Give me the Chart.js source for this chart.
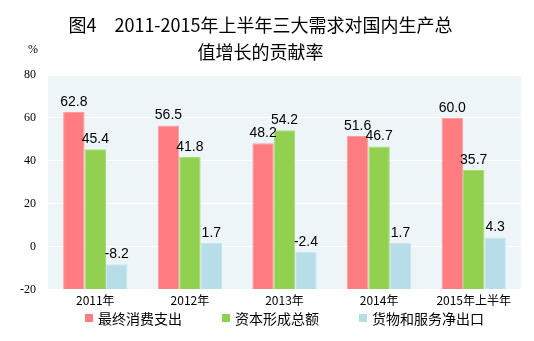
<!DOCTYPE html>
<html>
<head>
<meta charset="utf-8">
<script src="https://cdn.jsdelivr.net/npm/chart.js@4"></script>
<style>
	body { margin: 0; background: #fff; }
	#wrap { position: relative; width: 534px; height: 341px; }
	#legend {
		position: absolute; left: 48px; top: 308px; width: 473px;
		display: flex; justify-content: center; gap: 40px;
		font: 14px 'Noto Sans CJK SC', sans-serif; color: #000;
	}
	#legend span.item { display: flex; align-items: center; }
	#legend span.box { width: 8px; height: 8px; margin-right: 5px; }
</style>
</head>
<body>
<div id="wrap">
	<canvas id="chart" width="534" height="341"></canvas>
	<div id="legend"></div>
</div>
<script>
const categories = ['2011年', '2012年', '2013年', '2014年', '2015年上半年'];
const consumption = [62.8, 56.5, 48.2, 51.6, 60.0];
const capitalFormation = [45.4, 41.8, 54.2, 46.7, 35.7];
const netExports = [-8.2, 1.7, -2.4, 1.7, 4.3];
const seriesNames = ['最终消费支出', '资本形成总额', '货物和服务净出口'];
const titleLines = ['图4　2011-2015年上半年三大需求对国内生产总', '值增长的贡献率'];

const colors = ['#FF7C80', '#92D050', '#B7DDE8'];
const borders = ['#FF9EA0', '#A9DA78', '#C8E6EF'];
const cjk = "'Noto Sans CJK SC', sans-serif";

Chart.defaults.font.family = cjk;
Chart.defaults.color = '#000';

// plot area background
const plotBg = {
	id: 'plotBg',
	beforeDraw(chart) {
		const { ctx, chartArea: a } = chart;
		ctx.save();
		ctx.fillStyle = '#EDF5F8';
		ctx.fillRect(a.left, a.top, a.right - a.left, a.bottom - a.top);
		ctx.restore();
	},
};

// value labels above bars + the % unit
const valueLabels = {
	id: 'valueLabels',
	afterDatasetsDraw(chart) {
		const { ctx } = chart;
		ctx.save();
		ctx.font = "14px 'Liberation Sans', Arial, sans-serif";
		ctx.fillStyle = '#000';
		ctx.textAlign = 'center';
		ctx.textBaseline = 'alphabetic';
		chart.data.datasets.forEach((ds, i) => {
			chart.getDatasetMeta(i).data.forEach((bar, j) => {
				ctx.fillText(ds.data[j].toFixed(1), bar.x, bar.y - 6);
			});
		});
		ctx.font = "12px 'Liberation Serif', serif";
		ctx.textAlign = 'left';
		ctx.textBaseline = 'middle';
		ctx.fillText('%', 28, 50);
		ctx.restore();
	},
};

const seriesData = [consumption, capitalFormation, netExports];

const chart = new Chart(document.getElementById('chart'), {
	type: 'bar',
	data: {
		labels: categories,
		datasets: seriesData.map((values, i) => ({
			label: seriesNames[i],
			data: values,
			base: -20,
			backgroundColor: colors[i],
			borderColor: borders[i],
			borderWidth: 1,
			categoryPercentage: 0.68,
			barPercentage: 1,
		})),
	},
	options: {
		responsive: false,
		animation: false,
		layout: { padding: { left: 0, right: 13, top: 0, bottom: 29 } },
		plugins: {
			legend: { display: false },
			tooltip: { enabled: false },
			title: {
				display: true,
				text: titleLines,
				color: '#000',
				font: { family: cjk, size: 18, weight: 'normal', lineHeight: 1.5 },
				padding: { top: 12, bottom: 9 },
			},
		},
		scales: {
			x: {
				grid: { display: false, drawTicks: false },
				border: { display: false },
				ticks: { font: { family: cjk, size: 12 }, padding: 4 },
			},
			y: {
				min: -20,
				max: 80,
				ticks: {
					stepSize: 20,
					padding: 12,
					font: { family: "'Liberation Serif', serif", size: 12 },
				},
				grid: { color: '#FFFFFF', lineWidth: 1, drawTicks: false },
				border: { display: false },
				afterFit(scale) {
					scale.width = 48;
				},
			},
		},
	},
	plugins: [plotBg, valueLabels],
});

// html legend
const legendEl = document.getElementById('legend');
chart.data.datasets.forEach((ds) => {
	const item = document.createElement('span');
	item.className = 'item';
	const box = document.createElement('span');
	box.className = 'box';
	box.style.background = ds.backgroundColor;
	item.appendChild(box);
	item.appendChild(document.createTextNode(ds.label));
	legendEl.appendChild(item);
});
</script>
</body>
</html>
